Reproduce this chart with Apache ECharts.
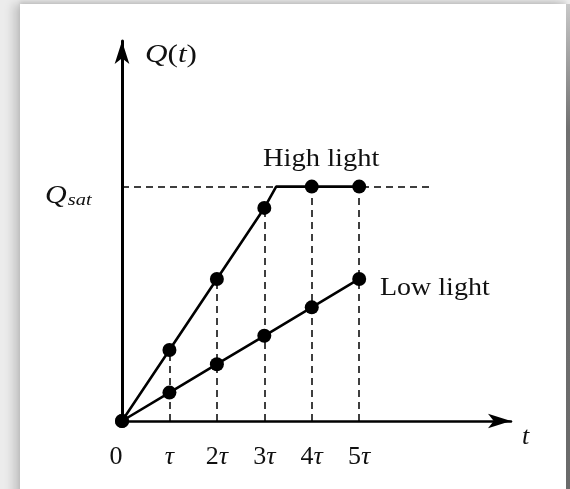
<!DOCTYPE html>
<html>
<head>
<meta charset="utf-8">
<script src="https://cdn.jsdelivr.net/npm/echarts@6/dist/echarts.min.js"></script>
<style>
  html, body { margin: 0; padding: 0; width: 570px; height: 489px; overflow: hidden; background: #ececec; }
  #panel { position: absolute; left: 20px; top: 4px; width: 546px; height: 500px; background: #fff;
           box-shadow: -7px 0 9px rgba(0,0,0,0.16), 0 -3px 4px rgba(0,0,0,0.10); }
  #edge { position: absolute; left: 566px; top: 4px; width: 4px; height: 500px;
          background: linear-gradient(#c8c8c8, #707070 25%, #6a6a6a); }
  #chart { position: absolute; left: 0; top: 0; width: 570px; height: 489px; }
</style>
</head>
<body>
<div id="panel"></div>
<div id="edge"></div>
<div id="chart"></div>
<script>
// ---- data ----
const tickLabels = ['0', 'τ', '2τ', '3τ', '4τ', '5τ'];
const highT = [0, 1, 2, 3, 3.25, 4, 5];
const highQ = [0, 1, 2, 3, 3.3, 3.3, 3.3];
const lowT  = [0, 1, 2, 3, 4, 5];
const lowQ  = [0, 0.4, 0.8, 1.2, 1.6, 2.0];
const qSat = 3.3;
const satLineEnd = 6.5;

const SERIF = '"Liberation Serif", "DejaVu Serif", serif';

const highData = highT.map((t, i) => ({
  value: [t, highQ[i]],
  symbol: Number.isInteger(t) ? 'circle' : 'none'
}));
const lowData = lowT.map((t, i) => [t, lowQ[i]]);

// vertical dashed guides from each tick up to the high-light curve
const guides = tickLabels.map((_, k) => k).filter(k => k > 0).map(k => {
  const idx = highT.indexOf(k);
  return [{ coord: [k, 0] }, { coord: [k, highQ[idx]] }];
});
guides.push([{ coord: [0, qSat] }, { coord: [satLineEnd, qSat] }]);

const chart = echarts.init(document.getElementById('chart'), null, { renderer: 'canvas' });

const option = {
  animation: false,
  backgroundColor: 'transparent',
  grid: { left: 122, right: 59, top: 41, bottom: 68 },
  xAxis: {
    type: 'value', min: 0, max: 8.2, interval: 1,
    axisLine: { show: true, symbol: ['none', 'arrow'], symbolSize: [11, 23],
                lineStyle: { color: '#000', width: 2.5 } },
    axisTick: { show: false },
    splitLine: { show: false },
    axisLabel: {
      margin: 23,
      fontFamily: SERIF, fontSize: 26, color: '#111',
      showMaxLabel: false,
      formatter: v => {
        const s = tickLabels[v];
        if (s === undefined) return '';
        if (v === 0) return '{z|0}';
        return s.replace('τ', '{it|τ}');
      },
      rich: {
        z: { fontFamily: SERIF, fontSize: 26, color: '#111', padding: [0, 12, 0, 0] },
        it: { fontFamily: SERIF, fontSize: 26, fontStyle: 'italic', color: '#111' }
      }
    }
  },
  yAxis: {
    type: 'value', min: 0, max: 5.35,
    axisLine: { show: true, symbol: ['none', 'arrow'], symbolSize: [11, 23],
                lineStyle: { color: '#000', width: 3 } },
    axisTick: { show: false },
    splitLine: { show: false },
    axisLabel: { show: false }
  },
  series: [
    {
      name: 'High light', type: 'line', data: highData,
      symbolSize: 14, itemStyle: { color: '#000' },
      lineStyle: { color: '#000', width: 2.6 }, z: 5,
      markLine: {
        silent: true, symbol: 'none', label: { show: false },
        lineStyle: { color: '#000', type: [7, 5], width: 1.5 },
        data: guides, z: 1
      }
    },
    {
      name: 'Low light', type: 'line', data: lowData,
      symbol: 'circle', symbolSize: 14, itemStyle: { color: '#000' },
      lineStyle: { color: '#000', width: 2.6 }, z: 5
    }
  ],
  graphic: [
    { type: 'text', left: 145, top: 42, scaleX: 1.2, style: {
        text: '{i|Q}{n|(}{i|t}{n|)}',
        rich: {
          i: { fontFamily: SERIF, fontSize: 26, fontStyle: 'italic', fill: '#111' },
          n: { fontFamily: SERIF, fontSize: 26, fill: '#111' }
        } } },
    { type: 'text', left: 45, top: 184, scaleX: 1.2, style: {
        text: '{q|Q}{s|sat}',
        rich: {
          q: { fontFamily: SERIF, fontSize: 25, fontStyle: 'italic', fill: '#111', verticalAlign: 'bottom' },
          s: { fontFamily: SERIF, fontSize: 17, fontStyle: 'italic', fill: '#111', padding: [9, 0, 0, 1], verticalAlign: 'bottom' }
        } } },
    { type: 'text', left: 263, top: 147, scaleX: 1.14, style: {
        text: 'High light', fontFamily: SERIF, fontSize: 25, fill: '#111' } },
    { type: 'text', left: 380, top: 276, scaleX: 1.12, style: {
        text: 'Low light', fontFamily: SERIF, fontSize: 25, fill: '#111' } },
    { type: 'text', left: 522, top: 424, style: {
        text: 't', fontFamily: SERIF, fontSize: 26, fontStyle: 'italic', fill: '#111' } }
  ]
};
chart.setOption(option);
</script>
</body>
</html>
